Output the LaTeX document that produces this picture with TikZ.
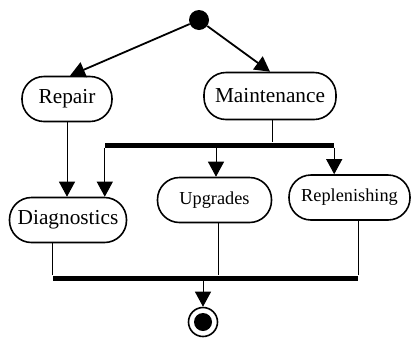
\documentclass[tikz,border=0pt]{standalone}
\usepackage{fontspec}
\setmainfont{Liberation Serif}
\usetikzlibrary{arrows.meta}
\begin{document}
\begin{tikzpicture}[x=1pt,y=-1pt,
  activity/.style={draw, line width=1.6pt, rounded corners=22pt, inner sep=0pt, minimum height=45pt},
  big/.style={font=\fontsize{21.3}{24}\selectfont},
  small/.style={font=\fontsize{18.3}{22}\selectfont},
  bar/.style={fill=black, inner sep=0pt, minimum height=5pt},
  dot/.style={circle, fill=black, inner sep=0pt, minimum size=20pt},
  flow/.style={line width=1pt, -{Triangle[length=15pt,width=16pt]}},
  thickflow/.style={line width=1.8pt, -{Triangle[length=15pt,width=16pt]}},
  link/.style={line width=1pt}]
\useasboundingbox (0,0) rectangle (411,338);

% activities and control nodes
\node[dot] (start) at (199,20) {};
\node[activity, big, minimum width=90pt] (repair) at (67,99) {Repair};
\node[activity, big, minimum width=132pt, minimum height=47pt] (maint) at (270,96) {Maintenance};
\node[bar, minimum width=229pt] (fork) at (219.5,145) {};
\node[activity, big, minimum width=117pt] (diag) at (68,220) {Diagnostics};
\node[activity, small, minimum width=114pt] (upg) at (214.5,200) {Upgrades};
\node[activity, small, minimum width=121pt] (repl) at (349.5,197.5) {Replenishing};
\node[bar, minimum width=305pt] (join) at (205.5,278) {};
\node[circle, draw, line width=1.6pt, minimum size=29pt, inner sep=0pt] (final) at (203,322) {};
\node[dot, minimum size=18pt] (finaldot) at (final) {};

% flows
\draw[thickflow] (start) -- ([xshift=3pt]repair.north);
\draw[thickflow] (start) -- (maint.north);
\draw[link] ([xshift=2pt]maint.south) -- ([xshift=2pt]maint.south |- fork.north);
\draw[flow] (repair.south) -- (repair.south |- diag.north);
\draw[flow] (fork.south west) -- (fork.south west |- diag.north);
\draw[flow] ([xshift=1.5pt]upg.north |- fork.south) -- ([xshift=1.5pt]upg.north);
\draw[flow] (fork.south east) -- (fork.south east |- repl.north);
\draw[link] (join.north west |- diag.south) -- (join.north west);
\draw[link] ([xshift=3.5pt]upg.south) -- ([xshift=3.5pt]upg.south |- join.north);
\draw[link] (join.north east |- repl.south) -- (join.north east);
\draw[flow] (join.south -| final.north) -- (final.north);
\end{tikzpicture}
\end{document}
